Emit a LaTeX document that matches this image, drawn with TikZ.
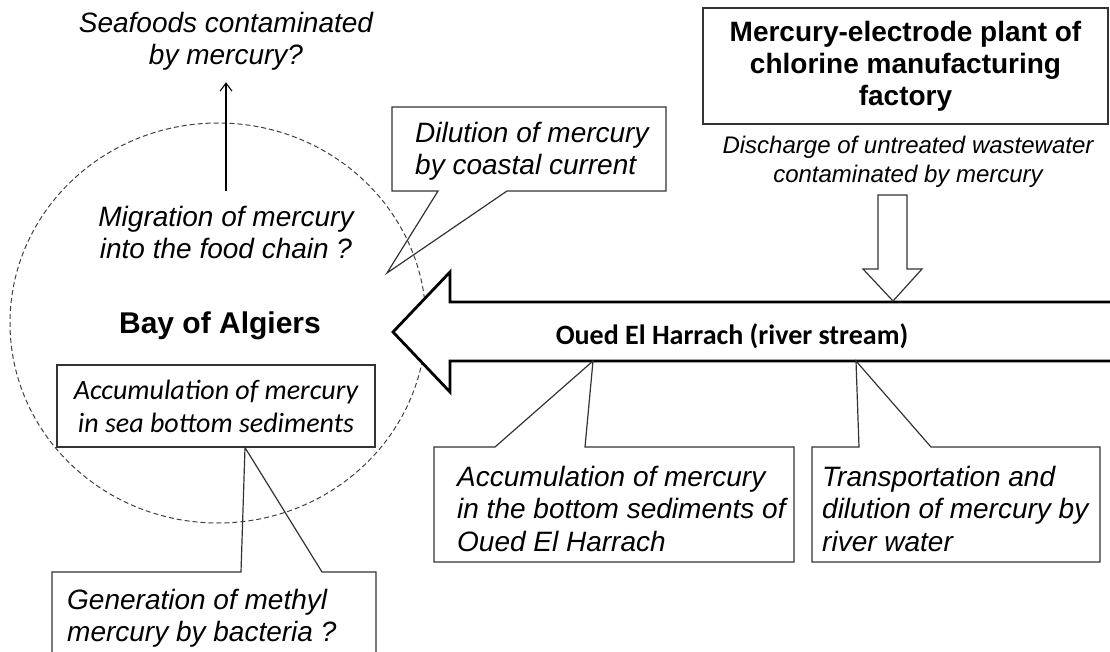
\documentclass[tikz,border=0pt]{standalone}
\usepackage{fontspec}
\setmainfont{Liberation Sans}
\newfontfamily\calfont{Carlito}
\usetikzlibrary{calc,arrows.meta}

\begin{document}
\begin{tikzpicture}
        [x=1pt,y=-1pt,
        every node/.style={inner sep=0pt},
        note/.style={font=\fontsize{28}{32}\selectfont\itshape,align=center},
        notel/.style={font=\fontsize{28}{32.5}\selectfont\itshape,align=left,anchor=north west},
        title/.style={font=\fontsize{28}{32}\selectfont\bfseries,align=center},
        frame/.style={draw=black!80,line width=1.2pt},
        bay/.style={draw=black!75,line width=1pt,dash pattern=on 5pt off 3pt},
        river/.style={draw=black,line width=2.8pt,fill=white,line join=miter}]
        \clip (0,0) rectangle (1110,652);
        \draw[bay] (218,323) ellipse [x radius=208pt,y radius=200pt];
        \node[note] (sea) at (226,41) {Seafoods contaminated\\by mercury?};
        \node[note] (migr) at (226,232) {Migration of mercury\\into the food chain ?};
        \draw[line width=1.1pt,-{Straight Barb[length=8pt,width=12pt]},shorten <=15pt,shorten >=12pt] (migr.north) -- (sea.south);
        \node[font=\fontsize{30}{36}\selectfont\bfseries] (bay) at (220,326) {Bay of Algiers};
        \node[frame,minimum width=318pt,minimum height=82pt,align=center,
              font=\fontsize{28}{33}\selectfont\calfont\itshape] (sedbox) at (216,406)
              {Accumulation of mercury\\in sea bottom sediments};
        \draw[frame] (52,670) -- (52,572) -- (241,572) -- ($(sedbox.south)+(29,0)$) -- (322,572) -- (376,572) -- (376,670);
        \node[notel] (gen) at (67,589) {Generation of methyl\\mercury by bacteria ?};
        \draw[frame] (438,191) -- (392,191) -- (392,107) -- (666,107) -- (666,191) -- (507,191) -- (387,273) -- cycle;
        \node[notel] (dilution) at (415,122) {Dilution of mercury\\by coastal current};
        \draw[river] (1120,302) -- (450,302) -- (450,272) -- (393,332) -- (450,392) -- (450,361) -- (1120,361);
        \coordinate (bed1) at (593,361);
        \coordinate (bed2) at (856,361);
        \node[font=\fontsize{28}{32}\selectfont\calfont\bfseries] (stream) at (732,336) {Oued El Harrach (river stream)};
        \node[title,frame,minimum width=405pt,minimum height=116pt] (plant) at (905.5,66)
              {Mercury-electrode plant of\\chlorine manufacturing\\factory};
        \node[font=\fontsize{24}{29}\selectfont\itshape,align=center] (discharge) at (908,162)
              {Discharge of untreated wastewater\\contaminated by mercury};
        \draw[frame,fill=white] (878,195) -- (878,269) -- (863,269) -- (893,301) -- (922,269) -- (907,269) -- (907,195) -- cycle;
        \draw[frame] (434,447) -- (495,447) -- (bed1) -- (585,447) -- (794,447) -- (794,562) -- (434,562) -- cycle;
        \node[notel] (harrach) at (457,466) {Accumulation of mercury\\in the bottom sediments of\\Oued El Harrach};
        \draw[frame] (812,447) -- (859,447) -- (bed2) -- (931,447) -- (1100,447) -- (1100,562) -- (812,562) -- cycle;
        \node[notel] (transport) at (822,466) {Transportation and\\dilution of mercury by\\river water};
\end{tikzpicture}
\end{document}
